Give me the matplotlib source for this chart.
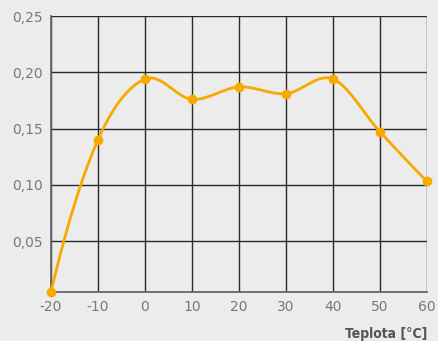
import matplotlib

matplotlib.use("Agg")
import matplotlib.pyplot as plt
import numpy as np

# values
temps = [-20, -10, 0, 10, 20, 30, 40, 50, 60]
values = [0.005, 0.140, 0.194, 0.176, 0.187, 0.181, 0.194, 0.147, 0.103]
yticks = [0.05, 0.10, 0.15, 0.20, 0.25]
ytick_labels = ["0,05", "0,10", "0,15", "0,20", "0,25"]

BG = "#ececec"
ORANGE = "#f7a900"


def smooth(x, y, n=40):
    """Cubic Hermite curve through the points: Catmull-Rom tangents inside,
    parabolic end conditions (so the first rise comes out steep)."""
    x = np.asarray(x, float)
    y = np.asarray(y, float)
    h = np.diff(x)
    d = np.diff(y) / h
    m = np.empty_like(y)
    m[1:-1] = (y[2:] - y[:-2]) / (x[2:] - x[:-2])
    m[0] = 2 * d[0] - m[1]
    m[-1] = 2 * d[-1] - m[-2]
    t = np.linspace(0, 1, n)
    h00 = 2 * t**3 - 3 * t**2 + 1
    h10 = t**3 - 2 * t**2 + t
    h01 = -2 * t**3 + 3 * t**2
    h11 = t**3 - t**2
    xs, ys = [], []
    for i in range(len(x) - 1):
        xs.append(x[i] + t * h[i])
        ys.append(h00 * y[i] + h10 * h[i] * m[i] + h01 * y[i + 1] + h11 * h[i] * m[i + 1])
    return np.concatenate(xs), np.concatenate(ys)


fig = plt.figure(figsize=(4.38, 3.41), dpi=100, facecolor=BG)
ax = fig.add_axes([0.1164, 0.1437, 0.8585, 0.8093], facecolor=BG)

sx, sy = smooth(temps, values)
ax.plot(sx, sy, color=ORANGE, lw=2.0, zorder=3, clip_on=False,
        solid_capstyle="round")
ax.plot(temps, values, "o", color=ORANGE, ms=6, zorder=4, clip_on=False)

ax.set_xlim(-20, 60)
ax.set_ylim(0.0047, 0.25)
ax.set_xticks(temps)
ax.set_xticklabels([str(t) for t in temps])
ax.set_yticks(yticks)
ax.set_yticklabels(ytick_labels)

ax.grid(True, color="#2a2a2a", lw=1.0)
ax.set_axisbelow(True)
for side in ("top", "right"):
    ax.spines[side].set_visible(False)
for side in ("left", "bottom"):
    ax.spines[side].set_color("#666666")
    ax.spines[side].set_linewidth(1.3)

ax.tick_params(length=0, pad=6, labelsize=10, labelcolor="#787878")
ax.set_xlabel("Teplota [°C]", fontsize=10, fontweight="bold",
              fontstretch="condensed", color="#555555", loc="right",
              labelpad=9)

fig.savefig("out.png", dpi=100, facecolor=BG)
